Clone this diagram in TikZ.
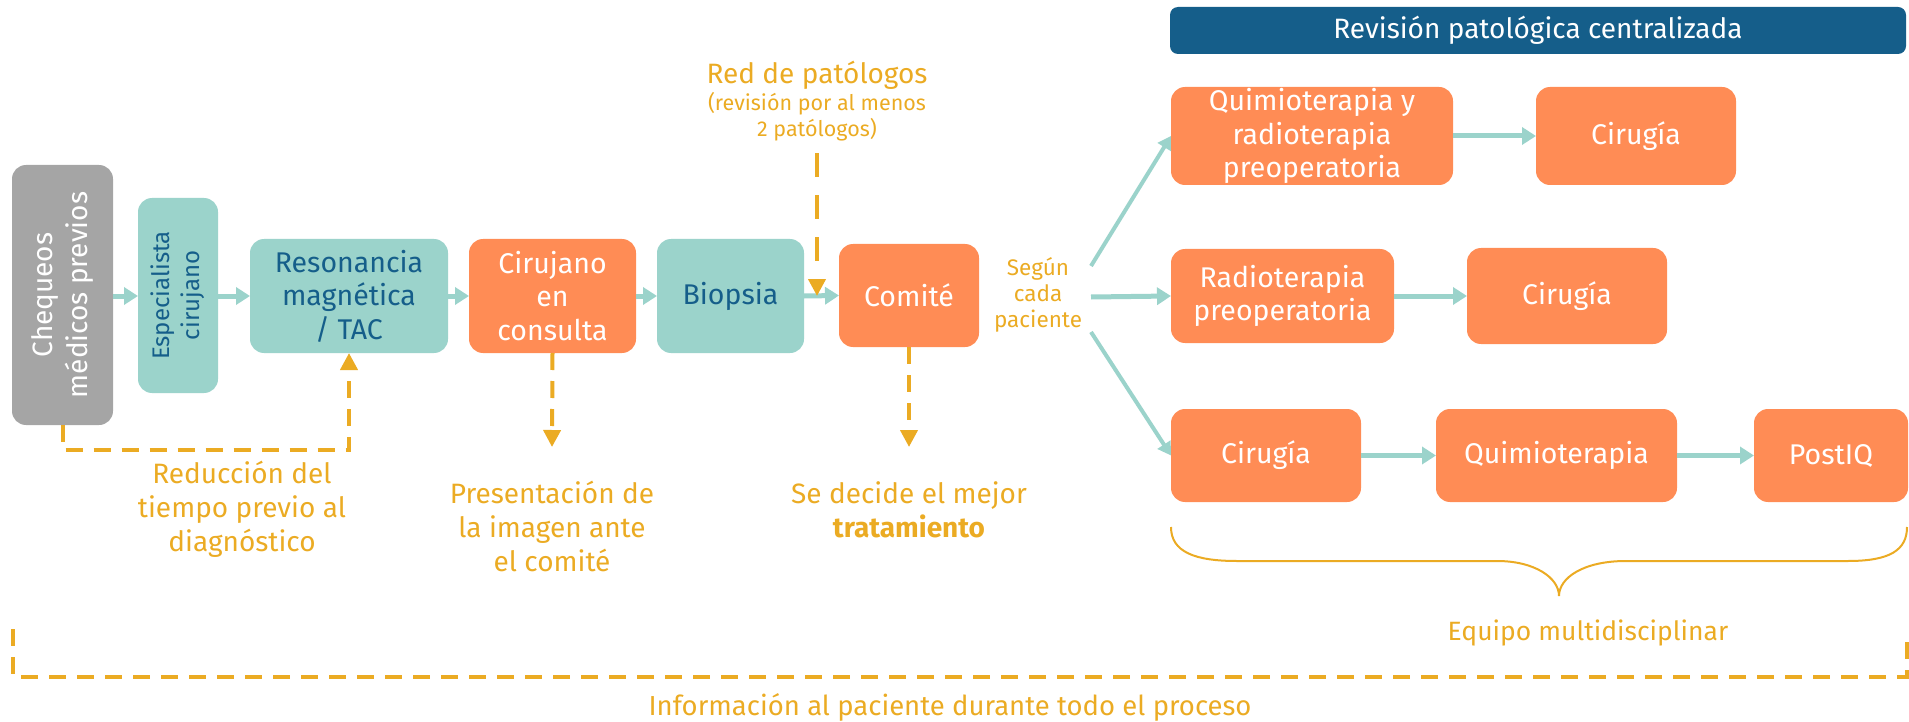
\documentclass[tikz,border=0pt]{standalone}
\usepackage{fontspec}
\setmainfont{Fira Sans}
\usetikzlibrary{arrows.meta}
\definecolor{cor}{HTML}{FF8C55}
\definecolor{ctl}{HTML}{9BD3CB}
\definecolor{cbl}{HTML}{155E8A}
\definecolor{cgd}{HTML}{EBAB23}
\definecolor{cgr}{HTML}{A5A5A5}
\begin{document}
\begin{tikzpicture}[x=1pt,y=-1pt,
  every node/.style={inner sep=0pt, outer sep=0pt},
  boxb/.style={rounded corners=14pt, align=center, font=\fontsize{28.5}{33.5}\selectfont},
  obox/.style={boxb, fill=cor, text=white},
  tbox/.style={boxb, fill=ctl, text=cbl},
  tarr/.style={draw=ctl, line width=5pt, -{Triangle[length=14pt,width=17pt]}},
  tarrd/.style={draw=ctl, line width=4pt, -{Triangle[length=13pt,width=15pt]}},
  gline/.style={draw=cgd, line width=4pt, dash pattern=on 17pt off 11pt},
  garr/.style={gline, -{Triangle[length=17pt,width=17pt]}},
  gtxt/.style={text=cgd, align=center, font=\fontsize{28}{34}\selectfont},
]
\useasboundingbox (0,0) rectangle (1909,722);

% first row
\node[boxb, fill=cgr, text=white, minimum width=101pt, minimum height=260pt] (cheq) at (62.5,295)
  {\rotatebox{90}{\fontsize{28}{35}\selectfont\begin{tabular}{@{}c@{}}Chequeos\\médicos previos\end{tabular}}};
\node[tbox, minimum width=80pt, minimum height=195pt] (esp) at (178,295.5)
  {\rotatebox{90}{\fontsize{24}{30}\selectfont\begin{tabular}{@{}c@{}}Especialista\\cirujano\end{tabular}}};
\node[tbox, minimum width=198pt, minimum height=114pt] (res) at (349,296) {Resonancia\\magnética\\/ TAC};
\node[obox, minimum width=167pt, minimum height=114pt] (ciru) at (552.5,296) {Cirujano\\en\\consulta};
\node[tbox, minimum width=147pt, minimum height=114pt] (bio) at (730.5,296) {Biopsia};
\node[obox, minimum width=140pt, minimum height=103pt] (com) at (909,295.5) {Comité};

\draw[tarr] (cheq.east |- 0,296) -- (esp.west |- 0,296);
\draw[tarr] (esp.east |- 0,296) -- (res.west);
\draw[tarr] (res.east) -- (ciru.west);
\draw[tarr] (ciru.east) -- (bio.west);
\draw[tarr] (bio.east) -- (com.west);

% pathologists
\node[gtxt, font=\fontsize{28}{30}\selectfont] (red) at (817,75) {Red de patólogos};
\node[gtxt, font=\fontsize{21.5}{26}\selectfont] (redsub) at (817,117) {(revisión por al menos\\2 patólogos)};
\coordinate (redend) at (817,296);
\draw[garr, dash pattern=on 24pt off 18pt] ([yshift=-12pt]redsub.south) -- (redend);

% annotations below
\node[gtxt] (reduc) at (242,509) {Reducción del\\tiempo previo al\\diagnóstico};
\node[gtxt] (pres) at (552,526) {Presentación de\\la imagen ante\\el comité};
\node[gtxt] (sedec) at (909,510) {Se decide el mejor\\\textbf{tratamiento}};
\coordinate (presarr) at (552,447);
\coordinate (sedarr) at (909,447);
\draw[garr] (cheq.south) -- ++(0,25) -| (res.south);
\draw[garr] (ciru.south) -- (presarr);
\draw[garr] (com.south) -- (sedarr);

% right part
\node[boxb, fill=cbl, text=white, rounded corners=8pt, minimum width=736pt, minimum height=47pt,
  font=\fontsize{28}{30}\selectfont] (head) at (1538,30.5) {Revisión patológica centralizada};
\node[gtxt, font=\fontsize{22.5}{26}\selectfont] (seg) at (1038,295) {Según\\cada\\paciente};
\coordinate (sa) at (1091,266);
\coordinate (sb) at (1091,297);
\coordinate (sc) at (1091,332);

\node[obox, minimum width=282pt, minimum height=98pt] (q1) at (1312,136) {Quimioterapia y\\radioterapia\\preoperatoria};
\node[obox, minimum width=200pt, minimum height=98pt] (c1) at (1636,136) {Cirugía};
\node[obox, minimum width=223pt, minimum height=94pt] (r2) at (1282.5,296) {Radioterapia\\preoperatoria};
\node[obox, minimum width=200pt, minimum height=96pt] (c2) at (1567,296) {Cirugía};
\node[obox, minimum width=190pt, minimum height=93pt] (c3) at (1266,455.5) {Cirugía};
\node[obox, minimum width=241pt, minimum height=93pt] (q3) at (1556.5,455.5) {Quimioterapia};
\node[obox, minimum width=154pt, minimum height=93pt] (p3) at (1831,455.5) {PostIQ};

\draw[tarrd] (sa) -- (q1.west);
\draw[tarr] (sb) -- (r2.west);
\draw[tarrd] (sc) -- (c3.west);
\draw[tarr] (q1.east) -- (c1.west);
\draw[tarr] (r2.east) -- (c2.west);
\draw[tarr] (c3.east) -- (q3.west);
\draw[tarr] (q3.east) -- (p3.west);

% brace
\draw[cgd, line width=2pt] (1171,527) .. controls (1171,552) and (1195,561) .. (1237,561) -- (1497,561)
  .. controls (1535,561) and (1559,578) .. (1559,596)
  .. controls (1559,578) and (1583,561) .. (1626,561) -- (1848,561)
  .. controls (1890,561) and (1907,550) .. (1907,527);
\node[gtxt, font=\fontsize{26.5}{30}\selectfont] (equipo) at (1588,633) {Equipo multidisciplinar};

% bottom information line
\coordinate (il) at (13,629);
\coordinate (ir) at (1907,640);
\draw[gline] (il) -- (13,677) -- (1907,677) -- (ir);
\node[gtxt, font=\fontsize{27.5}{30}\selectfont] (info) at (950,707) {Información al paciente durante todo el proceso};
\end{tikzpicture}
\end{document}
